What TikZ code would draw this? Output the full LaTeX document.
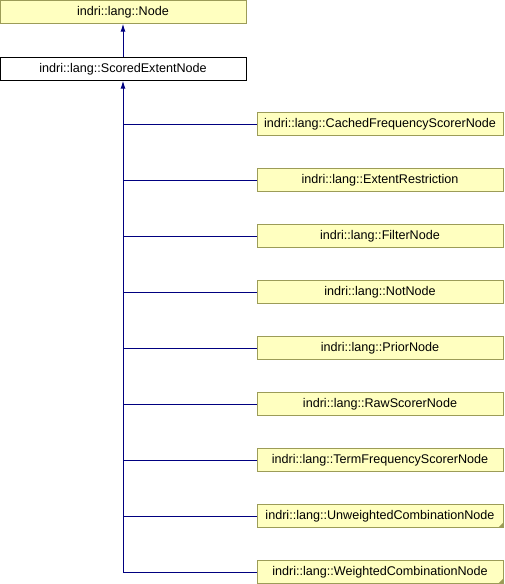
\documentclass[tikz,border=0pt]{standalone}
\usepackage{fontspec}
\setmainfont{Liberation Sans}
\usetikzlibrary{arrows.meta}
\definecolor{boxfill}{HTML}{FFFFC0}
\definecolor{boxline}{HTML}{9C9C58}
\definecolor{edgeblue}{HTML}{000080}
\begin{document}
\begin{tikzpicture}[x=1pt,y=-1pt,
  classbox/.style={draw=boxline,fill=boxfill,minimum width=246pt,minimum height=23pt,
    inner sep=0pt,font=\fontsize{12.6}{14}\selectfont},
  mainbox/.style={classbox,draw=black,fill=white},
  edge/.style={draw=edgeblue,line width=1pt},
  inherit/.style={edge,-{Latex[length=8pt,width=5pt]}}]
\useasboundingbox (0,0) rectangle (504,584);

\node[classbox] (node) at (123,12) {indri::lang::Node};
\node[mainbox] (scored) at (123,69) {indri::lang::ScoredExtentNode};
\draw[inherit] (scored.north) -- (node.south);

\foreach \name/\label [count=\i from 0] in {cached/CachedFrequencyScorerNode,
  extent/ExtentRestriction,filter/FilterNode,not/NotNode,prior/PriorNode,
  raw/RawScorerNode,term/TermFrequencyScorerNode,
  unweighted/UnweightedCombinationNode,weighted/WeightedCombinationNode}
{
  \node[classbox] (\name) at (380,124+56*\i) {indri::lang::\label};
  \draw[edge] (\name.west) -- (\name.west -| scored.south);
}
\draw[inherit] (weighted.west) -| (scored.south);

% truncated marks
\fill[boxline] (unweighted.south east) -- ++(-5,0) -- ++(5,-5) -- cycle;
\fill[boxline] (weighted.south east) -- ++(-5,0) -- ++(5,-5) -- cycle;

\end{tikzpicture}
\end{document}
